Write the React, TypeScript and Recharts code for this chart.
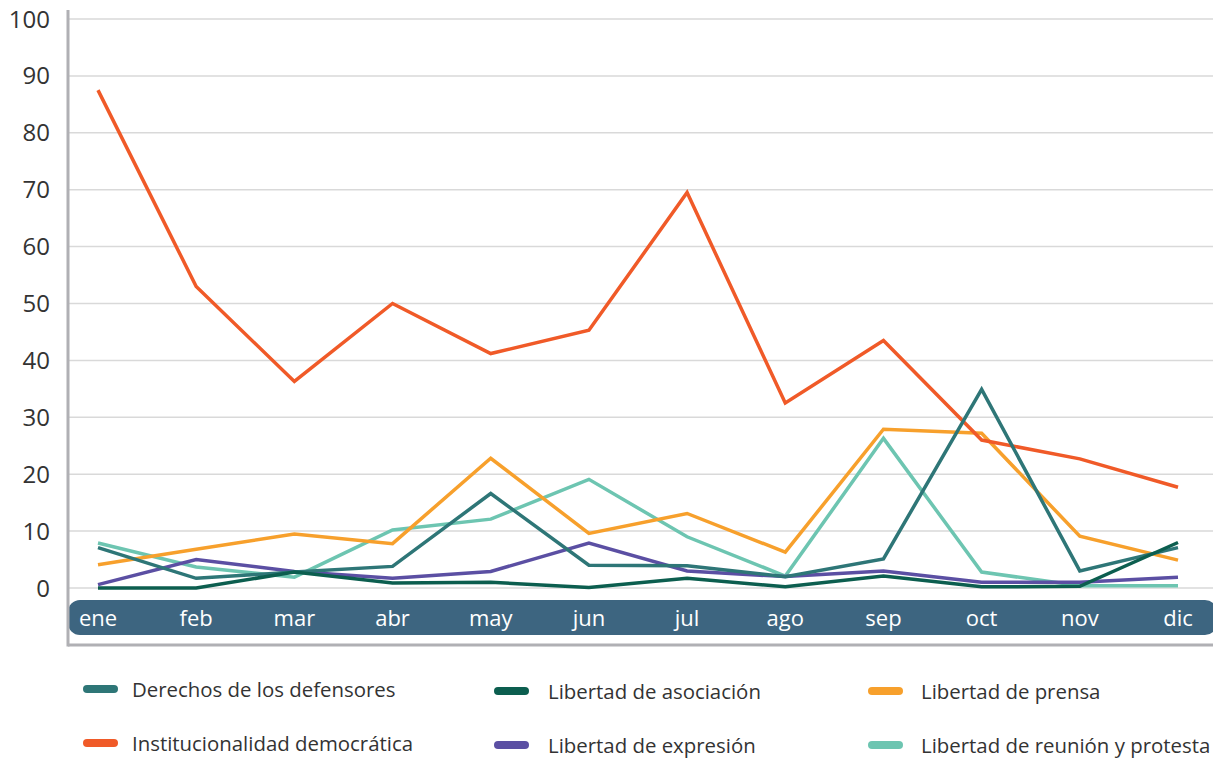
import React from 'react';
import { LineChart, Line, XAxis, YAxis, CartesianGrid } from 'recharts';

const months = ['ene', 'feb', 'mar', 'abr', 'may', 'jun', 'jul', 'ago', 'sep', 'oct', 'nov', 'dic'];
const yTicks = [0, 10, 20, 30, 40, 50, 60, 70, 80, 90, 100];

const derechos = [7.1, 1.7, 2.8, 3.8, 16.6, 4.0, 3.9, 2.0, 5.1, 34.9, 3.0, 7.1];
const institucionalidad = [87.5, 53, 36.3, 50, 41.2, 45.3, 69.5, 32.5, 43.5, 26, 22.7, 17.7];
const asociacion = [0, 0, 2.8, 0.9, 1.0, 0.1, 1.7, 0.2, 2.1, 0.2, 0.3, 8.0];
const expresion = [0.6, 5.0, 2.9, 1.7, 2.9, 7.9, 3.0, 2.0, 3.0, 1.0, 1.0, 1.9];
const prensa = [4.1, 6.8, 9.5, 7.8, 22.8, 9.6, 13.1, 6.3, 27.9, 27.2, 9.1, 4.9];
const reunion = [7.9, 3.7, 1.9, 10.2, 12.1, 19.1, 9.0, 2.1, 26.3, 2.8, 0.4, 0.4];

const series = [
  { key: 'reunion', name: 'Libertad de reunión y protesta', color: '#6DC5B1', values: reunion },
  { key: 'prensa', name: 'Libertad de prensa', color: '#F7A02C', values: prensa },
  { key: 'institucionalidad', name: 'Institucionalidad democrática', color: '#F05A28', values: institucionalidad },
  { key: 'expresion', name: 'Libertad de expresión', color: '#5B4FA3', values: expresion },
  { key: 'derechos', name: 'Derechos de los defensores', color: '#2E7677', values: derechos },
  { key: 'asociacion', name: 'Libertad de asociación', color: '#0C5E4F', values: asociacion },
];

const legendOrder = ['derechos', 'asociacion', 'prensa', 'institucionalidad', 'expresion', 'reunion'];

const data = months.map((m, i) => {
  const row: Record<string, any> = { month: m };
  series.forEach((s) => {
    row[s.key] = s.values[i];
  });
  return row;
});

const FONT = '"Open Sans", sans-serif';
const W = 1213;
const H = 752;
const MARGIN = { top: 11, right: 0, bottom: 115, left: 0 };
const Y_AXIS_W = 60;
const BAND_COLOR = '#3D6580';
const AXIS_GRAY = '#B0B0B4';

const XTick = (props: any) => {
  const { x, y, payload, index } = props;
  const plotLeft = MARGIN.left + Y_AXIS_W;
  const plotRight = W - MARGIN.right;
  return (
    <g>
      {index === 0 && (
        <g>
          <rect x={plotLeft} y={y + 12} width={plotRight - 4 - plotLeft} height={35} rx={12} ry={12} fill={BAND_COLOR} />
          <line x1={plotLeft} x2={plotRight - 4} y1={y + 57} y2={y + 57} stroke={AXIS_GRAY} strokeWidth={3} />
          <line x1={plotLeft} x2={plotLeft} y1={2} y2={y + 58.5} stroke={AXIS_GRAY} strokeWidth={3} />
        </g>
      )}
      <text x={x} y={y + 38} textAnchor="middle" fill="#FFFFFF" fontSize={22} fontFamily={FONT}>
        {payload.value}
      </text>
    </g>
  );
};

const LegendBlock = () => {
  const items = legendOrder.map((k) => series.find((s) => s.key === k)!);
  const colLeft = [75, 486, 860];
  const colGap = [14, 19, 18];
  const rowTop = [681, 735];
  return (
    <>
      {items.map((p, i) => {
        const col = i % 3;
        const row = Math.floor(i / 3);
        return (
          <div
            key={p.key}
            style={{
              position: 'absolute',
              left: colLeft[col],
              top: rowTop[row] + (col > 0 ? 2 : 0) - 13,
              height: 26,
              display: 'flex',
              alignItems: 'center',
              whiteSpace: 'nowrap',
            }}
          >
            <span
              style={{
                display: 'inline-block',
                width: 35,
                height: 8,
                borderRadius: 4,
                background: p.color,
                marginRight: colGap[col],
              }}
            />
            <span style={{ fontFamily: FONT, fontSize: 20.4, color: '#333333' }}>{p.name}</span>
          </div>
        );
      })}
    </>
  );
};

export default function App() {
  return (
    <div style={{ position: 'relative', width: W, height: H }}>
      <LineChart width={W} height={H} data={data} margin={MARGIN}>
        <CartesianGrid vertical={false} stroke="#D9D9D9" strokeWidth={1.5} />
        <XAxis
          dataKey="month"
          axisLine={false}
          tickLine={false}
          tickSize={0}
          tickMargin={0}
          height={57}
          padding={{ left: 30, right: 43 }}
          tick={<XTick />}
          interval={0}
        />
        <YAxis
          width={Y_AXIS_W}
          domain={[0, 100]}
          ticks={yTicks}
          axisLine={false}
          tickLine={false}
          tickSize={0}
          tickMargin={18}
          tick={{ fontSize: 24, fill: '#333333', fontFamily: FONT }}
          interval={0}
        />
        {series.map((s) => (
          <Line
            key={s.key}
            type="linear"
            dataKey={s.key}
            name={s.name}
            stroke={s.color}
            strokeWidth={3.5}
            dot={false}
            activeDot={false}
            isAnimationActive={false}
          />
        ))}
      </LineChart>
      <LegendBlock />
    </div>
  );
}
